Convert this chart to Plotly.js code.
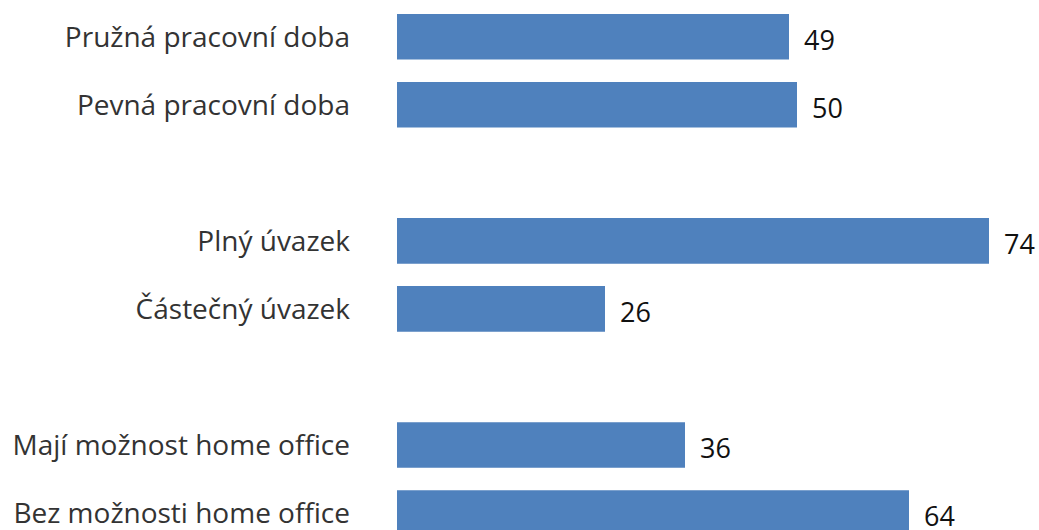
<!DOCTYPE html>
<html><head><meta charset="utf-8">
<script src="https://cdn.plot.ly/plotly-3.0.1.min.js"></script>
<style>body{margin:0;background:#fff}#c{width:1039px;height:530px}</style>
</head><body><div id="c"></div>
<script>
const categories = ["Pružná pracovní doba","Pevná pracovní doba","","Plný úvazek","Částečný úvazek","","Mají možnost home office","Bez možnosti home office"];
const values = [49, 50, null, 74, 26, null, 36, 64];
const positions = categories.map((c,i)=>i);
const barY = [], barX = [];
positions.forEach((p,i)=>{ if(values[i]!==null){ barY.push(p); barX.push(values[i]); } });
const trace = {type:'bar', orientation:'h', y:barY, x:barX, width:0.67,
  marker:{color:'#4F81BD'}, hoverinfo:'none', cliponaxis:false};
const annotations = barY.map((p,i)=>({x:barX[i], y:p, text:String(barX[i]), showarrow:false,
  xanchor:'left', yanchor:'middle', xshift:13, yshift:-3, font:{family:'Open Sans', size:27, color:'#111'}}));
const layout = {
  width:1039, height:530, margin:{l:397,r:0,t:0,b:0}, showlegend:false,
  paper_bgcolor:'#fff', plot_bgcolor:'#fff',
  xaxis:{range:[0,80.25], visible:false, fixedrange:true},
  yaxis:{range:[7.25,-0.54], tickvals:positions, ticktext:categories, showgrid:false, zeroline:false,
    showline:false, ticks:'', ticklabelstandoff:46, ticklabeloverflow:'allow',
    tickfont:{family:'Open Sans', size:28, color:'#333'}},
  annotations: annotations
};
Plotly.newPlot('c',[trace],layout,{staticPlot:true});
</script></body></html>
